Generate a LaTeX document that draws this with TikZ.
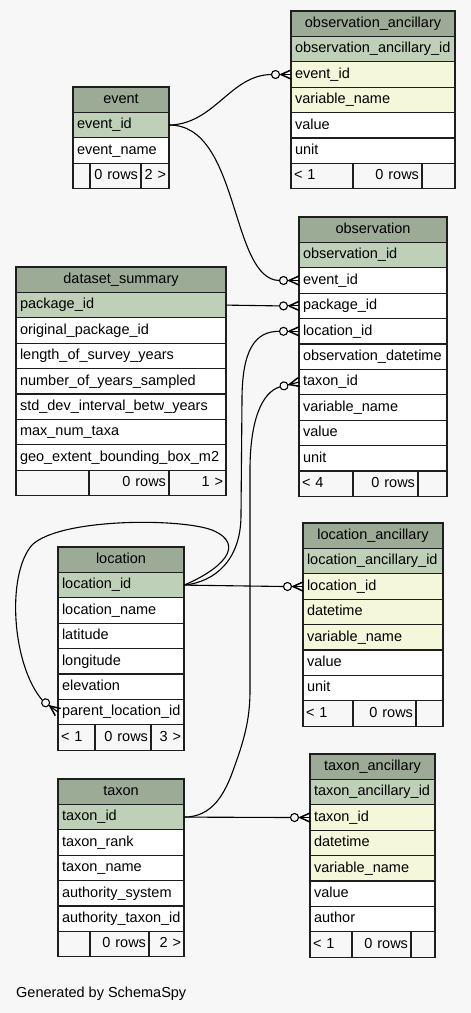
\documentclass[tikz,border=0pt]{standalone}
\usepackage{fontspec}
\setmainfont{Liberation Sans}
\definecolor{bgc}{HTML}{F7F7F7}
\definecolor{hdrc}{HTML}{9BAB96}
\definecolor{pkc}{HTML}{BED1B8}
\definecolor{fkc}{HTML}{F4F7DA}
\definecolor{linec}{HTML}{1E1E1E}
\hyphenpenalty=10000
\exhyphenpenalty=10000
\newcommand\crowfoot[3]{%
  \begin{scope}[shift={(#1)}, rotate=#2]
    \draw[conn] (-15.5,0) circle[radius=4pt];
    \draw[conn] (-11.5,0) -- (0,0);
    \draw[conn, line width=1.5pt] (-10,0) -- (0,4.5);
    \draw[conn, line width=1.5pt] (-10,0) -- (0,-4.5);
    \coordinate (#3) at (-19.5,0);
  \end{scope}}
\begin{document}
\begin{tikzpicture}[x=1pt,y=-1pt,
  cell/.style={draw=linec, line width=1.1pt, rectangle, minimum height=25.4pt,
    inner xsep=4pt, inner ysep=0pt, outer sep=0pt, anchor=north west,
    font=\fontsize{14.5}{17}\selectfont, text height=10.5pt, text depth=3pt},
  hdr/.style={cell, fill=hdrc, align=center},
  pkrow/.style={cell, fill=pkc, align=left},
  fkrow/.style={cell, fill=fkc, align=left},
  plainrow/.style={cell, fill=white, align=left},
  ftl/.style={cell, fill=bgc, align=left, inner xsep=3pt},
  ftr/.style={cell, fill=bgc, align=right, inner xsep=3pt},
  wd/.style 2 args={minimum width=#1, text width=#2},
  conn/.style={draw=black, line width=1.1pt},
]
\fill[bgc] (0,0) rectangle (471,1013);
\useasboundingbox (0,0) rectangle (471,1013);

% observation_ancillary
\begin{scope}[every node/.append style={wd={164pt}{156pt}}]
\node[hdr] (oa) at (291,11) {observation\_ancillary};
\node[pkrow] (oa-id) at (oa.south west) {observation\_ancillary\_id};
\node[fkrow] (oa-ev) at (oa-id.south west) {event\_id};
\node[fkrow] (oa-var) at (oa-ev.south west) {variable\_name};
\node[plainrow] (oa-val) at (oa-var.south west) {value};
\node[plainrow] (oa-unit) at (oa-val.south west) {unit};
\end{scope}
\node[ftl, wd={62pt}{56pt}] (oa-f1) at (oa-unit.south west) {< 1};
\node[ftr, wd={69pt}{63pt}] (oa-f2) at (oa-f1.north east) {0 rows};
\node[ftr, wd={33pt}{27pt}] (oa-f3) at (oa-f2.north east) {};

% event
\begin{scope}[every node/.append style={wd={96pt}{88pt}}]
\node[hdr] (ev) at (73,87) {event};
\node[pkrow] (ev-id) at (ev.south west) {event\_id};
\node[plainrow] (ev-name) at (ev-id.south west) {event\_name};
\end{scope}
\node[ftl, wd={17pt}{11pt}] (ev-f1) at (ev-name.south west) {};
\node[ftr, wd={51pt}{45pt}] (ev-f2) at (ev-f1.north east) {0 rows};
\node[ftr, wd={28pt}{22pt}] (ev-f3) at (ev-f2.north east) {2 >};

% dataset_summary
\begin{scope}[every node/.append style={wd={210pt}{202pt}}]
\node[hdr] (ds) at (16,267) {dataset\_summary};
\node[pkrow] (ds-pk) at (ds.south west) {package\_id};
\node[plainrow] (ds-orig) at (ds-pk.south west) {original\_package\_id};
\node[plainrow] (ds-len) at (ds-orig.south west) {length\_of\_survey\_years};
\node[plainrow] (ds-num) at (ds-len.south west) {number\_of\_years\_sampled};
\node[plainrow] (ds-std) at (ds-num.south west) {std\_dev\_interval\_betw\_years};
\node[plainrow] (ds-max) at (ds-std.south west) {max\_num\_taxa};
\node[plainrow] (ds-geo) at (ds-max.south west) {geo\_extent\_bounding\_box\_m2};
\end{scope}
\node[ftl, wd={73pt}{67pt}] (ds-f1) at (ds-geo.south west) {};
\node[ftr, wd={80pt}{74pt}] (ds-f2) at (ds-f1.north east) {0 rows};
\node[ftr, wd={57pt}{51pt}] (ds-f3) at (ds-f2.north east) {1 >};

% observation
\begin{scope}[every node/.append style={wd={148pt}{140pt}}]
\node[hdr] (ob) at (299,217) {observation};
\node[pkrow] (ob-id) at (ob.south west) {observation\_id};
\node[plainrow] (ob-ev) at (ob-id.south west) {event\_id};
\node[plainrow] (ob-pk) at (ob-ev.south west) {package\_id};
\node[plainrow] (ob-loc) at (ob-pk.south west) {location\_id};
\node[plainrow] (ob-dt) at (ob-loc.south west) {observation\_datetime};
\node[plainrow] (ob-tx) at (ob-dt.south west) {taxon\_id};
\node[plainrow] (ob-var) at (ob-tx.south west) {variable\_name};
\node[plainrow] (ob-val) at (ob-var.south west) {value};
\node[plainrow] (ob-unit) at (ob-val.south west) {unit};
\end{scope}
\node[ftl, wd={54pt}{48pt}] (ob-f1) at (ob-unit.south west) {< 4};
\node[ftr, wd={65pt}{59pt}] (ob-f2) at (ob-f1.north east) {0 rows};
\node[ftr, wd={29pt}{23pt}] (ob-f3) at (ob-f2.north east) {};

% location
\begin{scope}[every node/.append style={wd={126pt}{118pt}}]
\node[hdr] (lo) at (58,547) {location};
\node[pkrow] (lo-id) at (lo.south west) {location\_id};
\node[plainrow] (lo-name) at (lo-id.south west) {location\_name};
\node[plainrow] (lo-lat) at (lo-name.south west) {latitude};
\node[plainrow] (lo-lon) at (lo-lat.south west) {longitude};
\node[plainrow] (lo-elev) at (lo-lon.south west) {elevation};
\node[plainrow] (lo-par) at (lo-elev.south west) {parent\_location\_id};
\end{scope}
\node[ftl, wd={37pt}{31pt}] (lo-f1) at (lo-par.south west) {< 1};
\node[ftr, wd={56pt}{50pt}] (lo-f2) at (lo-f1.north east) {0 rows};
\node[ftr, wd={33pt}{27pt}] (lo-f3) at (lo-f2.north east) {3 >};

% location_ancillary
\begin{scope}[every node/.append style={wd={140pt}{132pt}}]
\node[hdr] (la) at (303,523) {location\_ancillary};
\node[pkrow] (la-id) at (la.south west) {location\_ancillary\_id};
\node[fkrow] (la-loc) at (la-id.south west) {location\_id};
\node[fkrow] (la-dt) at (la-loc.south west) {datetime};
\node[fkrow] (la-var) at (la-dt.south west) {variable\_name};
\node[plainrow] (la-val) at (la-var.south west) {value};
\node[plainrow] (la-unit) at (la-val.south west) {unit};
\end{scope}
\node[ftl, wd={50pt}{44pt}] (la-f1) at (la-unit.south west) {< 1};
\node[ftr, wd={63pt}{57pt}] (la-f2) at (la-f1.north east) {0 rows};
\node[ftr, wd={27pt}{21pt}] (la-f3) at (la-f2.north east) {};

% taxon
\begin{scope}[every node/.append style={wd={126pt}{118pt}}]
\node[hdr] (tx) at (58,779) {taxon};
\node[pkrow] (tx-id) at (tx.south west) {taxon\_id};
\node[plainrow] (tx-rank) at (tx-id.south west) {taxon\_rank};
\node[plainrow] (tx-name) at (tx-rank.south west) {taxon\_name};
\node[plainrow] (tx-sys) at (tx-name.south west) {authority\_system};
\node[plainrow] (tx-aid) at (tx-sys.south west) {authority\_taxon\_id};
\end{scope}
\node[ftl, wd={32pt}{26pt}] (tx-f1) at (tx-aid.south west) {};
\node[ftr, wd={59pt}{53pt}] (tx-f2) at (tx-f1.north east) {0 rows};
\node[ftr, wd={35pt}{29pt}] (tx-f3) at (tx-f2.north east) {2 >};

% taxon_ancillary
\begin{scope}[every node/.append style={wd={125pt}{117pt}}]
\node[hdr] (ta) at (310,754) {taxon\_ancillary};
\node[pkrow] (ta-id) at (ta.south west) {taxon\_ancillary\_id};
\node[fkrow] (ta-tx) at (ta-id.south west) {taxon\_id};
\node[fkrow] (ta-dt) at (ta-tx.south west) {datetime};
\node[fkrow] (ta-var) at (ta-dt.south west) {variable\_name};
\node[plainrow] (ta-val) at (ta-var.south west) {value};
\node[plainrow] (ta-auth) at (ta-val.south west) {author};
\end{scope}
\node[ftl, wd={42pt}{36pt}] (ta-f1) at (ta-auth.south west) {< 1};
\node[ftr, wd={59pt}{53pt}] (ta-f2) at (ta-f1.north east) {0 rows};
\node[ftr, wd={24pt}{18pt}] (ta-f3) at (ta-f2.north east) {};

% crow's feet (zero or many)
\crowfoot{oa-ev.west}{0}{oa-ev-in}
\crowfoot{ob-ev.west}{0}{ob-ev-in}
\crowfoot{ob-pk.west}{0}{ob-pk-in}
\crowfoot{ob-loc.west}{0}{ob-loc-in}
\crowfoot{ob-tx.west}{14}{ob-tx-in}
\crowfoot{la-loc.west}{0}{la-loc-in}
\crowfoot{ta-tx.west}{0}{ta-tx-in}
\crowfoot{lo-par.west}{-37}{lo-par-in}

% connectors
\draw[conn] (ev-id.east) .. controls (215,124) and (230,75) .. (oa-ev-in);
\draw[conn] (ev-id.east) .. controls (240,124) and (230,280) .. (ob-ev-in);
\draw[conn] (ds-pk.east) -- (ob-pk-in);
\draw[conn] (lo-id.east) .. controls (215,582) and (241,560) .. (241,515)
  -- (242,400) .. controls (242,350) and (255,331) .. (ob-loc-in);
\draw[conn] (lo-id.east) .. controls (220,570) and (248,545) .. (212,530)
  .. controls (180,518) and (60,518) .. (32,545)
  .. controls (6,575) and (12,665) .. (lo-par-in);
\draw[conn] (lo-id.east) -- (la-loc-in);
\draw[conn] (tx-id.east) .. controls (212,817) and (225,795) .. (235,765)
  .. controls (246,735) and (250,715) .. (250,690)
  -- (250,470) .. controls (250,420) and (262,392) .. (ob-tx-in);
\draw[conn] (tx-id.east) -- (ta-tx-in);

\node[anchor=base west, inner sep=0pt, font=\fontsize{14.5}{17}\selectfont] (credit) at (16,997.5) {Generated by SchemaSpy};
\end{tikzpicture}
\end{document}
